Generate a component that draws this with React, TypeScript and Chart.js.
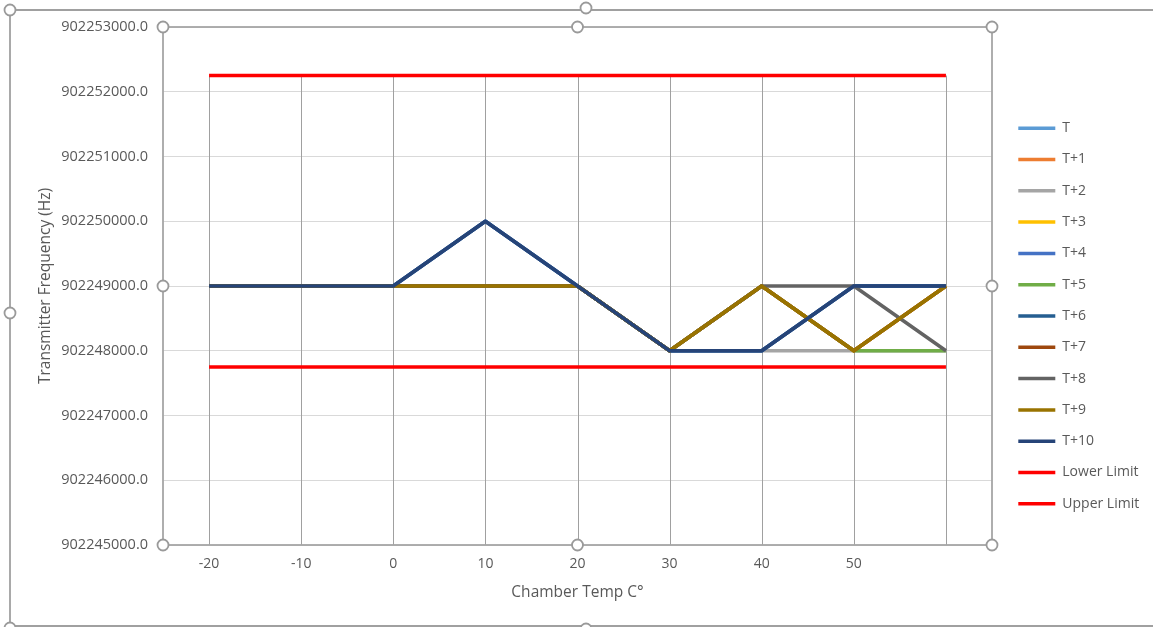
import React, { useEffect, useRef } from 'react';
import { Chart, registerables } from 'chart.js';

Chart.register(...registerables);

// ---- data ----
const categories = ['-20', '-10', '0', '10', '20', '30', '40', '50', ''];

const seriesNames = ['T', 'T+1', 'T+2', 'T+3', 'T+4', 'T+5', 'T+6', 'T+7', 'T+8', 'T+9', 'T+10'];

const valuesT = [902249000, 902249000, 902249000, 902249000, 902249000, 902248000, 902249000, 902248000, 902249000];
const valuesT1 = [902249000, 902249000, 902249000, 902249000, 902249000, 902248000, 902249000, 902248000, 902249000];
const valuesT2 = [902249000, 902249000, 902249000, 902249000, 902249000, 902248000, 902248000, 902248000, 902248000];
const valuesT3 = [902249000, 902249000, 902249000, 902249000, 902249000, 902248000, 902249000, 902248000, 902249000];
const valuesT4 = [902249000, 902249000, 902249000, 902250000, 902249000, 902248000, 902248000, 902249000, 902249000];
const valuesT5 = [902249000, 902249000, 902249000, 902249000, 902249000, 902248000, 902249000, 902248000, 902248000];
const valuesT6 = [902249000, 902249000, 902249000, 902250000, 902249000, 902248000, 902248000, 902249000, 902249000];
const valuesT7 = [902249000, 902249000, 902249000, 902249000, 902249000, 902248000, 902249000, 902248000, 902249000];
const valuesT8 = [902249000, 902249000, 902249000, 902249000, 902249000, 902248000, 902249000, 902249000, 902248000];
const valuesT9 = [902249000, 902249000, 902249000, 902249000, 902249000, 902248000, 902249000, 902248000, 902249000];
const valuesT10 = [902249000, 902249000, 902249000, 902250000, 902249000, 902248000, 902248000, 902249000, 902249000];

const lowerLimit = [902247750, 902247750, 902247750, 902247750, 902247750, 902247750, 902247750, 902247750, 902247750];
const upperLimit = [902252250, 902252250, 902252250, 902252250, 902252250, 902252250, 902252250, 902252250, 902252250];

const seriesValues = [valuesT, valuesT1, valuesT2, valuesT3, valuesT4, valuesT5, valuesT6, valuesT7, valuesT8, valuesT9, valuesT10];

const seriesColors = ['#5B9BD5', '#ED7D31', '#A5A5A5', '#FFC000', '#4472C4', '#70AD47', '#255E91', '#9E480E', '#636363', '#997300', '#264478'];
const limitColor = '#FF0000';

const yMin = 902245000;
const yMax = 902253000;
const yStep = 1000;

const xTitle = 'Chamber Temp C°';
const yTitle = 'Transmitter Frequency (Hz)';

// ---- layout constants ----
const W = 1153;
const H = 627;
const FONT = "'Open Sans', 'Noto Sans', sans-serif";
const TEXT = '#595959';
const FRAME = '#a6a6a6';
const LEGEND_WIDTH = 161;
const LEGEND_SHIFT_X = 9;
const LEGEND_SHIFT_Y = -11;

function handle(ctx: CanvasRenderingContext2D, x: number, y: number) {
  ctx.beginPath();
  ctx.arc(x, y, 5.5, 0, Math.PI * 2);
  ctx.fillStyle = '#ffffff';
  ctx.fill();
  ctx.lineWidth = 1.8;
  ctx.strokeStyle = '#9a9a9a';
  ctx.stroke();
}

const excelDecor = {
  id: 'excelDecor',
  beforeLayout(chart: any) {
    const lg: any = chart.legend;
    if (lg && !lg.__patched) {
      const orig = lg.fit.bind(lg);
      lg.fit = function () {
        orig();
        this.width = LEGEND_WIDTH;
      };
      lg.__patched = true;
    }
  },
  afterLayout(chart: any) {
    const lg: any = chart.legend;
    if (lg) {
      lg.left += LEGEND_SHIFT_X;
      lg.top += LEGEND_SHIFT_Y;
      lg.bottom += LEGEND_SHIFT_Y;
    }
  },
  beforeDatasetsDraw(chart: any) {
    const { ctx, chartArea, scales } = chart;
    const xs = scales.x;
    const ys = scales.y;
    ctx.save();
    ctx.strokeStyle = '#a0a0a0';
    ctx.lineWidth = 1;
    for (let i = 0; i < categories.length; i++) {
      let max = -Infinity;
      chart.data.datasets.forEach((ds: any) => {
        const v = ds.data[i];
        if (typeof v === 'number' && v > max) max = v;
      });
      if (!isFinite(max)) continue;
      const px = Math.round(xs.getPixelForValue(i)) + 0.5;
      ctx.beginPath();
      ctx.moveTo(px, ys.getPixelForValue(max));
      ctx.lineTo(px, chartArea.bottom);
      ctx.stroke();
    }
    ctx.restore();
  },
  afterDraw(chart: any) {
    const { ctx, chartArea } = chart;
    const { left, right, top, bottom } = chartArea;
    ctx.save();
    // plot area selection frame
    ctx.strokeStyle = FRAME;
    ctx.lineWidth = 1.8;
    ctx.strokeRect(left, top, right - left, bottom - top);
    const mx = (left + right) / 2;
    const my = (top + bottom) / 2;
    [[left, top], [mx, top], [right, top], [left, my], [right, my], [left, bottom], [mx, bottom], [right, bottom]].forEach(
      ([x, y]) => handle(ctx, x, y)
    );
    // outer chart selection frame
    ctx.strokeStyle = '#a0a0a0';
    ctx.lineWidth = 1.8;
    ctx.beginPath();
    ctx.moveTo(W, 10);
    ctx.lineTo(10, 10);
    ctx.lineTo(10, H - 1);
    ctx.lineTo(W, H - 1);
    ctx.stroke();
    [[10, 10], [586, 8], [10, 313], [10, H + 1], [586, H + 2]].forEach(([x, y]) => handle(ctx, x, y));
    ctx.restore();
  },
};

export default function App() {
  const ref = useRef<HTMLCanvasElement | null>(null);

  useEffect(() => {
    document.body.style.margin = '0';
    const canvas = ref.current;
    if (!canvas) return;

    const datasets: any[] = seriesNames.map((name, i) => ({
      label: name,
      data: seriesValues[i],
      borderColor: seriesColors[i],
      backgroundColor: seriesColors[i],
      borderWidth: 3.5,
      pointRadius: 0,
      tension: 0,
      fill: false,
      borderJoinStyle: 'round',
      order: -i,
    }));
    datasets.push({
      label: 'Lower Limit',
      data: lowerLimit,
      borderColor: limitColor,
      backgroundColor: limitColor,
      borderWidth: 3.5,
      pointRadius: 0,
      fill: false,
      order: -11,
    });
    datasets.push({
      label: 'Upper Limit',
      data: upperLimit,
      borderColor: limitColor,
      backgroundColor: limitColor,
      borderWidth: 3.5,
      pointRadius: 0,
      fill: false,
      order: -12,
    });

    const chart = new Chart(canvas, {
      type: 'line',
      data: { labels: categories, datasets },
      plugins: [excelDecor as any],
      options: {
        animation: false,
        responsive: false,
        events: [],
        layout: { padding: { top: 27, left: 0, right: 0, bottom: 0 } },
        plugins: {
          tooltip: { enabled: false },
          legend: {
            position: 'right',
            align: 'center',
            labels: {
              boxWidth: 37,
              boxHeight: 3.5,
              padding: 17.3,
              color: TEXT,
              font: { family: FONT, size: 14 },
              sort: (a: any, b: any) => a.datasetIndex - b.datasetIndex,
              generateLabels: (c: any) =>
                (Chart.defaults.plugins.legend.labels as any)
                  .generateLabels(c)
                  .map((l: any) => ({ ...l, lineWidth: 0, fillStyle: l.strokeStyle })),
            },
          },
        },
        scales: {
          x: {
            type: 'category',
            offset: true,
            grid: { display: false, drawTicks: false },
            border: { display: false },
            ticks: {
              color: TEXT,
              font: { family: FONT, size: 14 },
              padding: 11,
              maxRotation: 0,
              autoSkip: false,
            },
            title: {
              display: true,
              text: xTitle,
              color: TEXT,
              font: { family: FONT, size: 15.5 },
              padding: { top: 8, bottom: 25 },
            },
            afterFit: (s: any) => {
              s.height = 82;
            },
          },
          y: {
            type: 'linear',
            min: yMin,
            max: yMax,
            grid: { color: '#d9d9d9', lineWidth: 1, drawTicks: false },
            border: { display: false },
            ticks: {
              stepSize: yStep,
              color: TEXT,
              font: { family: FONT, size: 14.5 },
              padding: 15,
              callback: (v: any) => Number(v).toFixed(1),
            },
            title: {
              display: true,
              text: yTitle,
              color: TEXT,
              font: { family: FONT, size: 15.5 },
              padding: { top: 36, bottom: 4 },
            },
            afterFit: (s: any) => {
              s.width = 163;
            },
          },
        },
      },
    });

    return () => chart.destroy();
  }, []);

  return (
    <div style={{ position: 'relative', width: W, height: H, background: '#ffffff' }}>
      <canvas ref={ref} width={W} height={H} style={{ display: 'block', width: W, height: H }} />
    </div>
  );
}
